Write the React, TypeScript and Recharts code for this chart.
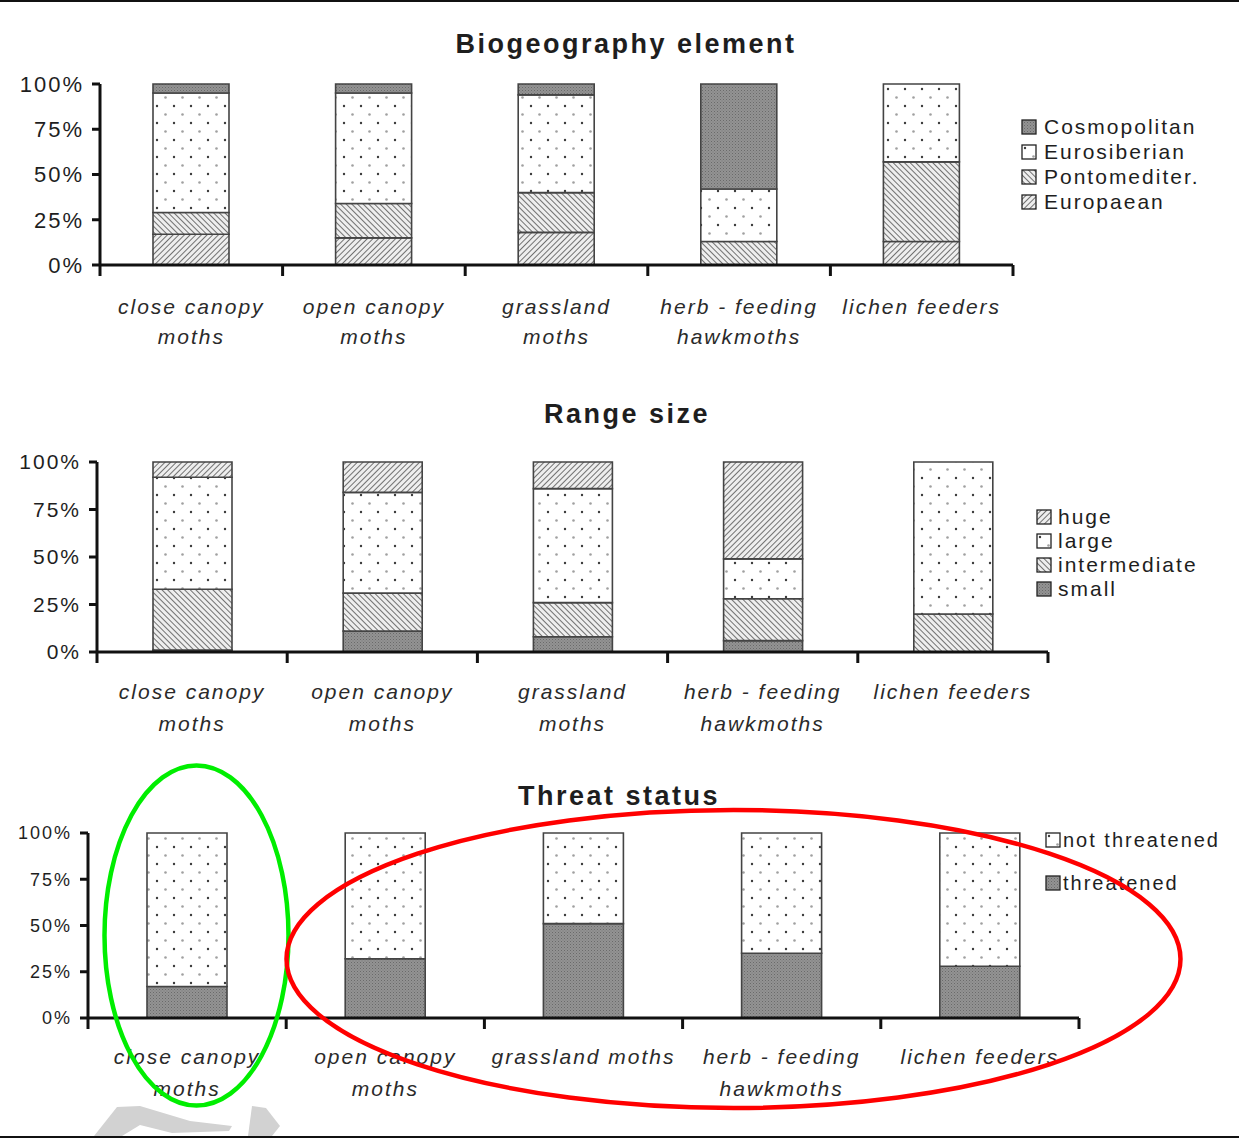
import React from 'react';
import { BarChart, Bar, XAxis, YAxis, Legend } from 'recharts';

// categories and tick labels
const categories = ['close canopy moths', 'open canopy moths', 'grassland moths', 'herb - feeding hawkmoths', 'lichen feeders'];
const tickLabels = [['close canopy', 'moths'], ['open canopy', 'moths'], ['grassland', 'moths'], ['herb - feeding', 'hawkmoths'], ['lichen feeders']];
const threatTickLabels = [['close canopy', 'moths'], ['open canopy', 'moths'], ['grassland moths'], ['herb - feeding', 'hawkmoths'], ['lichen feeders']];
const yTicks = [0, 25, 50, 75, 100];

// Biogeography element (%)
const europaean = [17, 15, 18, 0, 13];
const pontomediter = [12, 19, 22, 13, 44];
const eurosiberian = [66, 61, 54, 29, 43];
const cosmopolitan = [5, 5, 6, 58, 0];

// Range size (%)
const small = [1, 11, 8, 6, 0];
const intermediate = [32, 20, 18, 22, 20];
const large = [59, 53, 60, 21, 80];
const huge = [8, 16, 14, 51, 0];

// Threat status (%)
const threatened = [17, 32, 51, 35, 28];
const notThreatened = [83, 68, 49, 65, 72];

const bioData = categories.map((name, i) => ({
  name, Europaean: europaean[i], Pontomediter: pontomediter[i], Eurosiberian: eurosiberian[i], Cosmopolitan: cosmopolitan[i],
}));
const rangeData = categories.map((name, i) => ({
  name, small: small[i], intermediate: intermediate[i], large: large[i], huge: huge[i],
}));
const threatData = categories.map((name, i) => ({
  name, threatened: threatened[i], notThreatened: notThreatened[i],
}));

const DARK = 'url(#darkFill)';
const DOTS = 'url(#dotFill)';
const BACK = 'url(#hatchBack)';
const FWD = 'url(#hatchFwd)';

type Item = { key: string; label: string; fill: string };

const bioSeries: Item[] = [
  { key: 'Europaean', label: 'Europaean', fill: FWD },
  { key: 'Pontomediter', label: 'Pontomediter.', fill: BACK },
  { key: 'Eurosiberian', label: 'Eurosiberian', fill: DOTS },
  { key: 'Cosmopolitan', label: 'Cosmopolitan', fill: DARK },
];
const rangeSeries: Item[] = [
  { key: 'small', label: 'small', fill: DARK },
  { key: 'intermediate', label: 'intermediate', fill: BACK },
  { key: 'large', label: 'large', fill: DOTS },
  { key: 'huge', label: 'huge', fill: FWD },
];
const threatSeries: Item[] = [
  { key: 'threatened', label: 'threatened', fill: DARK },
  { key: 'notThreatened', label: 'not threatened', fill: DOTS },
];

const FONT = "'Liberation Sans', Arial, Helvetica, sans-serif";

const makeTick = (labels: string[][], dy: number, lh: number) => (props: any) => {
  const { x, y, index, visibleTicksCount, width } = props;
  const n = visibleTicksCount || labels.length;
  const cw = Number(width) / n;
  const lines = labels[index] || [];
  return (
    <g>
      <line x1={x - cw / 2} x2={x - cw / 2} y1={y} y2={y + 11} stroke="#111" strokeWidth={3} />
      {index === n - 1 && <line x1={x + cw / 2} x2={x + cw / 2} y1={y} y2={y + 11} stroke="#111" strokeWidth={3} />}
      <text x={x} y={y + dy} textAnchor="middle" fontSize={21} fontStyle="italic" fill="#2a2a2a" style={{ letterSpacing: 2 }}>
        {lines.map((l, k) => (
          <tspan key={k} x={x} dy={k === 0 ? 0 : lh}>{l}</tspan>
        ))}
      </text>
    </g>
  );
};

const LegendBox = ({ items, rowH, font, textGap }: { items: Item[]; rowH: number; font: number; textGap: number }) => (
  <div style={{ display: 'flex', flexDirection: 'column', fontFamily: FONT }}>
    {items.map((it) => (
      <div key={it.key} style={{ display: 'flex', alignItems: 'center', height: rowH, fontSize: font, letterSpacing: 2, color: '#1e1e1e', whiteSpace: 'nowrap' }}>
        <svg width={16} height={16} style={{ marginRight: textGap, flex: 'none' }}>
          <rect x={1} y={1} width={14} height={14} fill={it.fill} stroke="#222" strokeWidth={1.3} />
        </svg>
        {it.label}
      </div>
    ))}
  </div>
);

type PanelProps = {
  top: number; height: number;
  plotLeft: number; plotRight: number; plotTop: number; plotBottom: number;
  data: any[]; series: Item[]; legendItems: Item[];
  legendX: number; legendY: number; legendRow: number; legendFont: number; legendGap: number;
  title: string; titleX: number; titleY: number;
  yFont: number; barSize: number; labels: string[][]; labelDy: number; lineH: number;
};

const Panel = (p: PanelProps) => {
  const W = 1239;
  return (
    <div style={{ position: 'absolute', left: 0, top: p.top, width: W, height: p.height, fontFamily: FONT }}>
      <div style={{ position: 'absolute', left: p.titleX, top: p.titleY - p.top, transform: 'translate(-50%, -50%)', fontSize: 27, fontWeight: 'bold', letterSpacing: 2.5, color: '#1e1e1e', whiteSpace: 'nowrap', zIndex: 2 }}>
        {p.title}
      </div>
      <BarChart
        width={W}
        height={p.height}
        data={p.data}
        margin={{ top: p.plotTop - p.top, right: W - p.plotRight, left: 0, bottom: 0 }}
        barSize={p.barSize}
      >
        <YAxis
          width={p.plotLeft}
          domain={[0, 100]}
          ticks={yTicks}
          tickFormatter={(v: number) => `${v}%`}
          axisLine={{ stroke: '#111', strokeWidth: 3 }}
          tickLine={{ stroke: '#111', strokeWidth: 3 }}
          tickSize={8}
          tickMargin={8}
          tick={{ fill: '#1e1e1e', fontSize: p.yFont, style: { letterSpacing: 2 } }}
        />
        <XAxis
          dataKey="name"
          interval={0}
          height={p.top + p.height - p.plotBottom}
          axisLine={{ stroke: '#111', strokeWidth: 3 }}
          tickLine={false}
          tickSize={0}
          tickMargin={0}
          tick={makeTick(p.labels, p.labelDy, p.lineH)}
        />
        {p.series.map((s) => (
          <Bar key={s.key} dataKey={s.key} stackId="a" fill={s.fill} stroke="#444" strokeWidth={1.6} isAnimationActive={false} />
        ))}
        <Legend
          layout="vertical"
          align="center"
          verticalAlign="middle"
          content={() => <LegendBox items={p.legendItems} rowH={p.legendRow} font={p.legendFont} textGap={p.legendGap} />}
          wrapperStyle={{ position: 'absolute', left: p.legendX, top: p.legendY - p.legendRow / 2 - p.top, width: 'auto', height: 'auto' }}
        />
      </BarChart>
    </div>
  );
};

const Patterns = () => (
  <svg width={0} height={0} style={{ position: 'absolute' }}>
    <defs>
      <pattern id="dotFill" width={17} height={17} patternUnits="userSpaceOnUse">
        <rect width={17} height={17} fill="#fff" />
        <circle cx={4} cy={4} r={1.2} fill="#3a3a3a" />
        <circle cx={12.5} cy={12.5} r={1.3} fill="#a0a0a0" />
      </pattern>
      <pattern id="hatchFwd" width={4} height={4} patternUnits="userSpaceOnUse" patternTransform="rotate(45)">
        <rect width={4} height={4} fill="#eeeeee" />
        <line x1={0} y1={0} x2={0} y2={4} stroke="#474747" strokeWidth={1.5} />
      </pattern>
      <pattern id="hatchBack" width={4} height={4} patternUnits="userSpaceOnUse" patternTransform="rotate(-45)">
        <rect width={4} height={4} fill="#eeeeee" />
        <line x1={0} y1={0} x2={0} y2={4} stroke="#474747" strokeWidth={1.5} />
      </pattern>
      <pattern id="darkFill" width={3} height={3} patternUnits="userSpaceOnUse">
        <rect width={3} height={3} fill="#939393" />
        <rect width={1} height={1} fill="#6a6a6a" />
        <rect x={1.5} y={1.5} width={1} height={1} fill="#777" />
      </pattern>
    </defs>
  </svg>
);

const Annotations = () => (
  <svg width={1239} height={1139} style={{ position: 'absolute', left: 0, top: 0, pointerEvents: 'none', zIndex: 5 }}>
    <line x1={0} y1={1} x2={1239} y2={1} stroke="#111" strokeWidth={2} />
    <line x1={0} y1={1137} x2={1239} y2={1137} stroke="#111" strokeWidth={2} />
    <path d="M 94 1136 L 117 1107 L 140 1106 L 190 1121 L 232 1126 L 229 1131 L 172 1133 L 140 1125 L 122 1136 Z" fill="#d2d2d2" />
    <path d="M 248 1136 L 252 1106 L 266 1108 L 280 1126 L 272 1136 Z" fill="#d2d2d2" />
    <ellipse cx={196.5} cy={935.5} rx={92} ry={170} fill="none" stroke="#00ee00" strokeWidth={4.5} />
    <ellipse cx={733.5} cy={959} rx={447} ry={149} fill="none" stroke="#ff0000" strokeWidth={4.5} />
  </svg>
);

export default function App() {
  return (
    <div style={{ position: 'absolute', left: 0, top: 0, width: 1239, height: 1139, background: '#fff', overflow: 'hidden' }}>
      <Patterns />
      <Panel
        top={0} height={372}
        plotLeft={100} plotRight={1013} plotTop={84} plotBottom={265}
        data={bioData} series={bioSeries} legendItems={[...bioSeries].reverse()}
        legendX={1021} legendY={127} legendRow={25} legendFont={21} legendGap={7}
        title="Biogeography element" titleX={626} titleY={44}
        yFont={22} barSize={76} labels={tickLabels} labelDy={49} lineH={30}
      />
      <Panel
        top={372} height={386}
        plotLeft={97} plotRight={1048} plotTop={462} plotBottom={652}
        data={rangeData} series={rangeSeries} legendItems={[...rangeSeries].reverse()}
        legendX={1036} legendY={517} legendRow={24} legendFont={21} legendGap={6}
        title="Range size" titleX={627} titleY={414}
        yFont={21} barSize={79} labels={tickLabels} labelDy={47} lineH={32}
      />
      <Panel
        top={758} height={381}
        plotLeft={88} plotRight={1079} plotTop={833} plotBottom={1018}
        data={threatData} series={threatSeries} legendItems={[...threatSeries].reverse()}
        legendX={1045} legendY={840} legendRow={43} legendFont={20} legendGap={2}
        title="Threat status" titleX={619} titleY={796}
        yFont={18} barSize={80} labels={threatTickLabels} labelDy={46} lineH={32}
      />
      <Annotations />
    </div>
  );
}
